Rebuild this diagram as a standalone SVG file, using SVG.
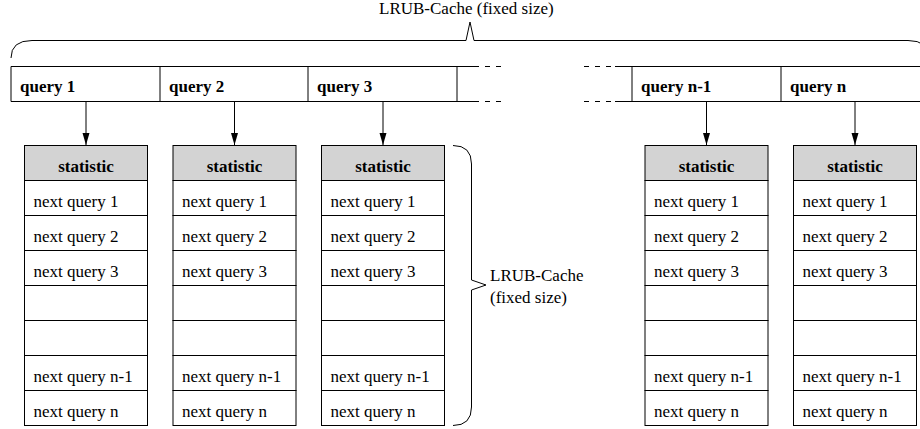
<svg xmlns="http://www.w3.org/2000/svg" width="920" height="429" viewBox="0 0 920 429" font-family="'Liberation Serif', 'Times New Roman', Times, serif">
  <style>
    .ln { stroke: #000; stroke-width: 1; fill: none; }
    .dash { stroke: #000; stroke-width: 1; stroke-dasharray: 5 6; fill: none; }
    .hdr { fill: #d3d3d3; stroke: #000; stroke-width: 1; }
    .cell { fill: #fff; stroke: #000; stroke-width: 1; }
    text { font-family: 'Liberation Serif', 'Times New Roman', Times, serif; font-size: 17px; fill: #000; }
    .b { font-weight: bold; }
    .mid { text-anchor: middle; }
  </style>
  <defs>
    <marker id="tip" viewBox="0 0 12 8" refX="12" refY="4" markerWidth="12" markerHeight="8" markerUnits="userSpaceOnUse" orient="auto">
      <path d="M0,0.5 L12,4 L0,7.5 Z" fill="#000"/>
    </marker>
    <!-- one statistic column: header plus seven entry rows -->
    <g id="column">
      <rect class="hdr" x="0" y="0" width="123" height="35"/>
      <rect class="cell" x="0" y="35" width="123" height="35"/>
      <rect class="cell" x="0" y="70" width="123" height="35"/>
      <rect class="cell" x="0" y="105" width="123" height="35"/>
      <rect class="cell" x="0" y="140" width="123" height="35"/>
      <rect class="cell" x="0" y="175" width="123" height="35"/>
      <rect class="cell" x="0" y="210" width="123" height="35"/>
      <rect class="cell" x="0" y="245" width="123" height="35"/>
      <text class="b mid" x="61.5" y="26">statistic</text>
      <text x="9" y="61">next query 1</text>
      <text x="9" y="96">next query 2</text>
      <text x="9" y="131">next query 3</text>
      <text x="9" y="236">next query n-1</text>
      <text x="9" y="271">next query n</text>
    </g>
  </defs>

  <!-- overall brace over the query list -->
  <g id="top-brace">
    <path class="ln" d="M11,58 Q11,40.5 32,40.5 L466,40.5 L470,22 L474,40.5 L908,40.5 Q929,40.5 929,58"/>
    <text x="379" y="14">LRUB-Cache (fixed size)</text>
  </g>

  <!-- query list bar -->
  <g id="query-bar">
    <path class="ln" d="M11,66.5 L474,66.5 M11,101.5 L474,101.5 M11,66.5 L11,101.5 M160,66.5 L160,101.5 M308,66.5 L308,101.5 M457,66.5 L457,101.5"/>
    <path class="dash" d="M474,66.5 L506,66.5 M474,101.5 L506,101.5 M584,66.5 L615,66.5 M584,101.5 L615,101.5"/>
    <path class="ln" d="M615,66.5 L930,66.5 M615,101.5 L930,101.5 M632,66.5 L632,101.5 M781,66.5 L781,101.5"/>
    <text class="b" x="20" y="92">query 1</text>
    <text class="b" x="169" y="92">query 2</text>
    <text class="b" x="317" y="92">query 3</text>
    <text class="b" x="641" y="92">query n-1</text>
    <text class="b" x="790" y="92">query n</text>
  </g>

  <!-- statistic tables -->
  <g id="stat-1"><use href="#column" x="24.5" y="145.5"/></g>
  <g id="stat-2"><use href="#column" x="173" y="145.5"/></g>
  <g id="stat-3"><use href="#column" x="321.5" y="145.5"/></g>
  <g id="stat-n-1"><use href="#column" x="645" y="145.5"/></g>
  <g id="stat-n"><use href="#column" x="793.5" y="145.5"/></g>

  <!-- brace beside one statistic table -->
  <g id="side-brace">
    <path class="ln" d="M453,145.5 Q471.5,145.5 471.5,164 L471.5,280 L486,285 L471.5,290 L471.5,407 Q471.5,425.5 453,425.5"/>
    <text x="490" y="281">LRUB-Cache</text>
    <text x="490" y="303">(fixed size)</text>
  </g>

  <!-- links from queries to their statistics -->
  <g id="connectors">
    <line class="ln" x1="86" y1="101.5" x2="86" y2="145" marker-end="url(#tip)"/>
    <line class="ln" x1="234.5" y1="101.5" x2="234.5" y2="145" marker-end="url(#tip)"/>
    <line class="ln" x1="383" y1="101.5" x2="383" y2="145" marker-end="url(#tip)"/>
    <line class="ln" x1="706.5" y1="101.5" x2="706.5" y2="145" marker-end="url(#tip)"/>
    <line class="ln" x1="855" y1="101.5" x2="855" y2="145" marker-end="url(#tip)"/>
  </g>
</svg>
